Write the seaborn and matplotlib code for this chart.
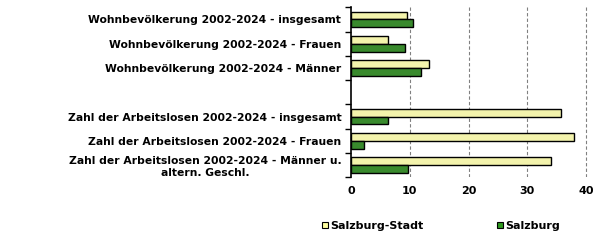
import matplotlib
matplotlib.use("Agg")
import matplotlib.pyplot as plt
import seaborn as sns
import pandas as pd
import numpy as np
from matplotlib.lines import Line2D

categories = [
    "Wohnbevölkerung 2002-2024 - insgesamt",
    "Wohnbevölkerung 2002-2024 - Frauen",
    "Wohnbevölkerung 2002-2024 - Männer",
    "Zahl der Arbeitslosen 2002-2024 - insgesamt",
    "Zahl der Arbeitslosen 2002-2024 - Frauen",
    "Zahl der Arbeitslosen 2002-2024 - Männer u.\naltern. Geschl.",
]
order = categories[:3] + [" "] + categories[3:]
series = ["Salzburg-Stadt", "Salzburg"]
stadt = [9.6, 6.35, 13.3, 35.7, 38.0, 34.0]
land = [10.6, 9.25, 11.95, 6.35, 2.2, 9.75]
xticks = [0, 10, 20, 30, 40]
colors = ["#FFFFA0", "#2E991E"]

df = pd.DataFrame({
    "cat": categories * 2,
    "region": [series[0]] * len(categories) + [series[1]] * len(categories),
    "value": stadt + land,
})

sns.set_style("white")
plt.rcParams["font.family"] = ["DejaVu Sans"]
plt.rcParams["font.weight"] = "bold"
plt.rcParams["text.color"] = "black"
plt.rcParams["xtick.color"] = "black"
plt.rcParams["ytick.color"] = "black"

fig = plt.figure(figsize=(6.05, 2.44), dpi=100)
ax = fig.add_axes([351 / 605, 1 - 177.3 / 244, 1 - 351 / 605, 170 / 244])

sns.barplot(data=df, y="cat", x="value", hue="region", order=order,
            hue_order=series, palette=colors, orient="h", width=0.64,
            edgecolor="black", linewidth=1.0, legend=False, ax=ax)

ax.set_xlim(0, (605 - 351) / 5.875)
ax.set_ylim(len(order) - 0.5, -0.5)
ax.set_xticks(xticks)
ax.set_xticklabels([str(t) for t in xticks], fontsize=8, fontweight="bold", color="black")
for t in xticks[1:]:
    ax.axvline(t, color="#808080", linestyle=(0, (3, 2)), linewidth=0.8, zorder=0)

ax.set_yticks(range(len(order)))
ax.set_yticklabels(order, fontsize=7.75, fontweight="bold", multialignment="center",
                   color="black")
ax.tick_params(axis="y", which="major", length=0, pad=7, left=False)
ax.set_yticks(np.arange(-0.5, len(order) + 0.5, 1), minor=True)
ax.tick_params(axis="y", which="minor", length=4, width=1, color="black",
               direction="out", left=True)
ax.tick_params(axis="x", length=0, pad=6)
ax.set_xlabel("")
ax.set_ylabel("")
for s in ["top", "right", "bottom"]:
    ax.spines[s].set_visible(False)
ax.spines["left"].set_color("black")
ax.spines["left"].set_linewidth(1.2)

handles = [Line2D([], [], marker="s", linestyle="", markersize=5,
                  markerfacecolor=c, markeredgecolor="black", markeredgewidth=0.8)
           for c in colors]
fig.legend(handles, series, loc="center left", bbox_to_anchor=(312 / 605, 1 - 226 / 244),
           ncol=2, frameon=False, handlelength=0.6, handletextpad=0.15,
           columnspacing=6.6, prop={"size": 8, "weight": "bold"})

fig.savefig("out.png", dpi=100)
